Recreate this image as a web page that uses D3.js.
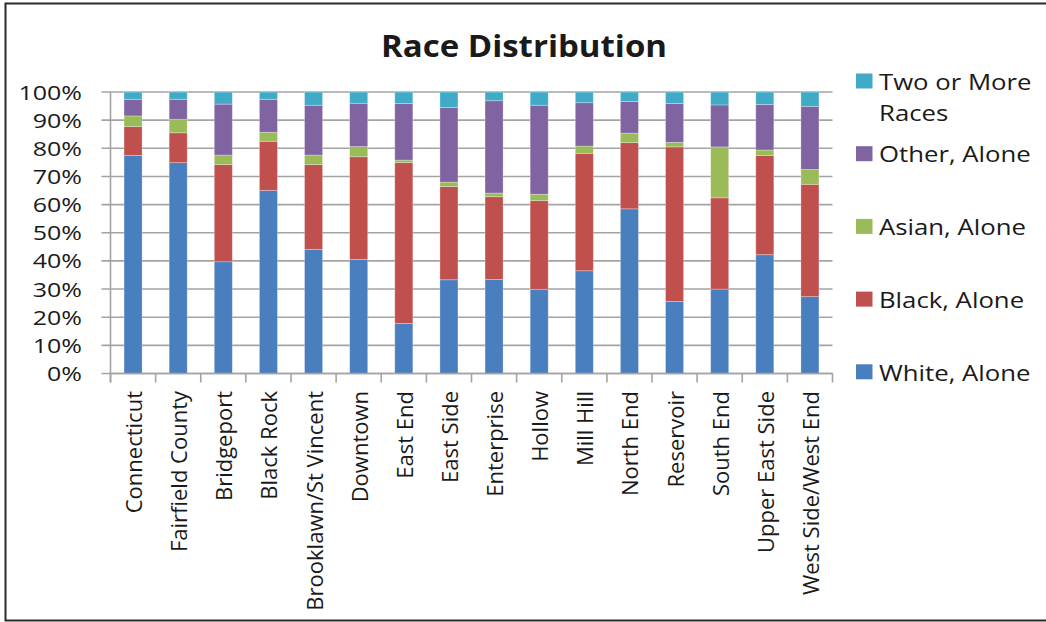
<!DOCTYPE html>
<html>
<head>
<meta charset="utf-8">
<script src="https://cdn.jsdelivr.net/npm/d3@7"></script>
<style>
  html, body { margin: 0; padding: 0; background: #fff; }
  svg { display: block; }
  text { font-family: "Open Sans", "DejaVu Sans", sans-serif; fill: #1a1a1a; }
</style>
</head>
<body>
<svg id="chart" width="1046" height="622"></svg>
<script>
// Neighbourhoods shown on the x axis
const categories = [
  "Connecticut", "Fairfield County", "Bridgeport", "Black Rock",
  "Brooklawn/St Vincent", "Downtown", "East End", "East Side",
  "Enterprise", "Hollow", "Mill Hill", "North End", "Reservoir",
  "South End", "Upper East Side", "West Side/West End"
];

// Share of population by race (percent), one array per series
const white  = [77.5, 74.9, 39.7, 65.0, 44.1, 40.5, 17.8, 33.3, 33.4, 29.9, 36.5, 58.5, 25.6, 30.0, 42.2, 27.3];
const black  = [10.2, 10.6, 34.5, 17.5, 30.1, 36.5, 57.1, 33.1, 29.4, 31.5, 41.7, 23.5, 54.9, 32.4, 35.2, 39.9];
const asian  = [ 3.8,  4.8,  3.4,  3.2,  3.4,  3.6,  0.9,  1.6,  1.3,  2.3,  2.6,  3.4,  1.6, 18.1,  2.0,  5.3];
const other  = [ 5.9,  7.1, 18.1, 11.7, 17.7, 15.4, 20.1, 26.5, 32.8, 31.6, 15.4, 11.2, 13.8, 14.9, 16.2, 22.4];
const twoOrMore = [2.6, 2.6, 4.3, 2.6, 4.7, 4.0, 4.1, 5.5, 3.1, 4.7, 3.8, 3.4, 4.1, 4.6, 4.4, 5.1];

const seriesNames = ["White, Alone", "Black, Alone", "Asian, Alone", "Other, Alone", "Two or More Races"];
const seriesValues = [white, black, asian, other, twoOrMore];
const seriesColors = ["#4a7fbf", "#c0504d", "#9bbb59", "#8064a2", "#41abc7"];
const yTicks = [0, 10, 20, 30, 40, 50, 60, 70, 80, 90, 100];

const svg = d3.select("#chart");
const W = 1046, H = 622;

// Outer frame
svg.append("rect")
  .attr("x", 5.5).attr("y", 3.5)
  .attr("width", W + 10).attr("height", H - 5)
  .attr("fill", "#fff").attr("stroke", "#2b2b2b").attr("stroke-width", 2);

const plot = { left: 110.5, right: 832.5, top: 92, bottom: 373.5 };

const x = d3.scaleBand()
  .domain(categories)
  .range([plot.left, plot.right])
  .paddingInner(0.6)
  .paddingOuter(0.3);

const y = d3.scaleLinear()
  .domain([0, 100])
  .range([plot.bottom, plot.top]);

// Stack the series
const rows = categories.map((c, i) => {
  const r = { category: c };
  seriesNames.forEach((n, k) => { r[n] = seriesValues[k][i]; });
  return r;
});
const stacked = d3.stack().keys(seriesNames)(rows);
const color = d3.scaleOrdinal().domain(seriesNames).range(seriesColors);

// Horizontal gridlines with tick stubs to the left of the axis
svg.append("g")
  .selectAll("line")
  .data(yTicks)
  .join("line")
  .attr("x1", plot.left - 9).attr("x2", plot.right)
  .attr("y1", d => y(d)).attr("y2", d => y(d))
  .attr("stroke", "#a3a3a3").attr("stroke-width", 1.6);

// Y axis labels (wide face: stretched horizontally)
svg.append("g")
  .selectAll("text")
  .data(yTicks)
  .join("text")
  .attr("transform", d => `translate(82,${y(d)}) scale(1.25,1)`)
  .attr("text-anchor", "end")
  .attr("dominant-baseline", "central")
  .attr("font-size", 20)
  .text(d => d + "%");

// Stacked bars
svg.append("g")
  .selectAll("g")
  .data(stacked)
  .join("g")
  .attr("fill", d => color(d.key))
  .selectAll("rect")
  .data(d => d)
  .join("rect")
  .attr("x", d => x(d.data.category))
  .attr("width", x.bandwidth())
  .attr("y", d => y(d[1]))
  .attr("height", d => y(d[0]) - y(d[1]))
  .attr("stroke", "rgba(255,255,255,0.35)")
  .attr("stroke-width", 0.8);

// Y axis line
svg.append("line")
  .attr("x1", plot.left).attr("x2", plot.left)
  .attr("y1", plot.top).attr("y2", plot.bottom + 9)
  .attr("stroke", "#a3a3a3").attr("stroke-width", 1.6);

// X axis line and category boundary ticks
svg.append("line")
  .attr("x1", plot.left).attr("x2", plot.right)
  .attr("y1", plot.bottom).attr("y2", plot.bottom)
  .attr("stroke", "#a3a3a3").attr("stroke-width", 1.6);
const boundaries = d3.range(categories.length + 1)
  .map(i => plot.left + i * (plot.right - plot.left) / categories.length);
svg.append("g")
  .selectAll("line")
  .data(boundaries)
  .join("line")
  .attr("x1", d => d).attr("x2", d => d)
  .attr("y1", plot.bottom).attr("y2", plot.bottom + 9)
  .attr("stroke", "#a3a3a3").attr("stroke-width", 1.6);

// Rotated category labels
svg.append("g")
  .selectAll("text")
  .data(categories)
  .join("text")
  .attr("transform", d => `translate(${x(d) + x.bandwidth() / 2},391) rotate(-90)`)
  .attr("text-anchor", "end")
  .attr("dominant-baseline", "central")
  .attr("font-size", 22)
  .text(d => d);

// Title
svg.append("text")
  .attr("x", 524).attr("y", 57)
  .attr("text-anchor", "middle")
  .attr("font-size", 31)
  .attr("font-weight", 700)
  .attr("textLength", 286)
  .attr("lengthAdjust", "spacingAndGlyphs")
  .text("Race Distribution");

// Legend, top entry is the last series
const legendItems = seriesNames.map((n, k) => ({ name: n, color: seriesColors[k] })).reverse();
const legendLines = {
  "Two or More Races": ["Two or More", "Races"]
};
const legend = svg.append("g");
legendItems.forEach((d, i) => {
  const cy = 81 + i * 72.7;
  legend.append("rect")
    .attr("x", 856).attr("y", cy - 7.5)
    .attr("width", 16.5).attr("height", 15)
    .attr("fill", d.color);
  const lines = legendLines[d.name] || [d.name];
  lines.forEach((t, j) => {
    legend.append("text")
      .attr("transform", `translate(879,${cy + j * 31}) scale(1.17,1)`)
      .attr("dominant-baseline", "central")
      .attr("font-size", 22)
      .text(t);
  });
});
</script>
</body>
</html>
